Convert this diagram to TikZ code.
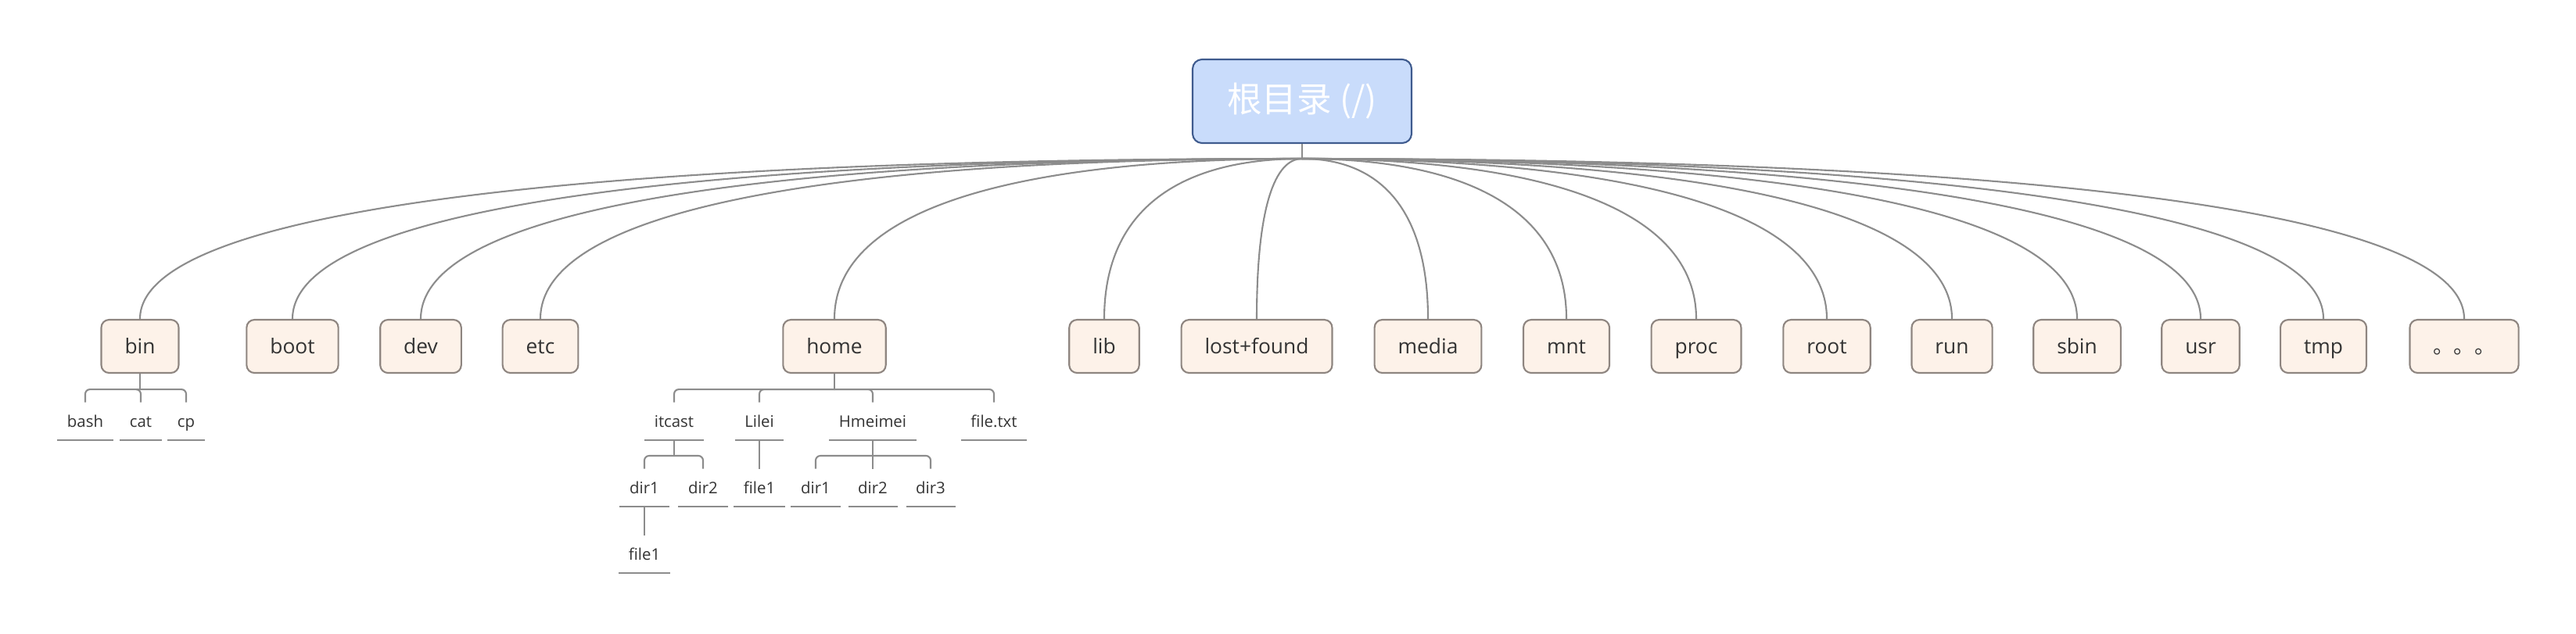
\documentclass[tikz,border=0pt]{standalone}
\usepackage{fontspec}
\usepackage{xcolor}
\usepackage{tikz}
\usetikzlibrary{calc}
\setmainfont{Open Sans}
\newfontfamily\cjkfont{Noto Sans CJK SC}
\definecolor{rootfill}{HTML}{C9DCFB}
\definecolor{rootline}{HTML}{3F5B8E}
\definecolor{boxfill}{HTML}{FDF2E9}
\definecolor{boxline}{HTML}{8E8580}
\definecolor{linkgray}{HTML}{8C8C8C}
\definecolor{txt}{HTML}{333333}
\tikzset{
  rootbox/.style={draw=rootline, fill=rootfill, rounded corners=.12cm, line width=.6pt,
    minimum width=2.8cm, minimum height=1.07cm, text=white, font=\fontsize{12.7}{14}\cjkfont},
  dirbox/.style={draw=boxline, fill=boxfill, rounded corners=.1cm, line width=.6pt,
    minimum height=.68cm, inner xsep=.3cm, text height=.24cm, text depth=.06cm,
    text=txt, font=\fontsize{7.5}{9}\selectfont},
  leaf/.style={anchor=south, inner xsep=.12cm, inner ysep=.06cm, text height=.17cm,
    text depth=.10cm, text=txt, font=\fontsize{5.8}{7}\selectfont},
  link/.style={draw=linkgray, line width=.6pt},
  branch/.style={link, rounded corners=.06cm},
}
\begin{document}
\begin{tikzpicture}
    \useasboundingbox (0,0) rectangle (32.94,-8.10);
    % root and first level
    \node[rootbox] (root) at (16.65,-1.295) {根目录 (/)};
    \coordinate (hub) at (16.65,-2.03);
    \draw[link] (root.south) -- (hub);
    \foreach \n/\x/\t in {bin/1.79/bin, boot/3.74/boot, dev/5.38/dev, etc/6.91/etc,
        home/10.67/home, lib/14.12/lib, lostfound/16.07/lost+found, media/18.26/media,
        mnt/20.03/mnt, proc/21.69/proc, rootdir/23.36/root, run/24.96/run,
        sbin/26.56/sbin, usr/28.14/usr, tmp/29.71/tmp, more/31.51/{\cjkfont 。。。}}
        \node[dirbox] (\n) at (\x,-4.43) {\t};
    \foreach \n in {bin,boot,dev,etc,home,lib,lostfound,media,mnt,proc,rootdir,run,sbin,usr,tmp,more}
        \draw[link] (hub) .. controls ($(hub)!.6!(hub -| \n.north)$)
            and ($(\n.north)!.7!(hub -| \n.north)$) .. (\n.north);
    % leaves
    \node[leaf] (bash) at (1.09,-5.63) {bash};
    \node[leaf] (cat) at (1.80,-5.63) {cat};
    \node[leaf] (cp) at (2.38,-5.63) {cp};
    \node[leaf] (itcast) at (8.62,-5.63) {itcast};
    \node[leaf] (lilei) at (9.71,-5.63) {Lilei};
    \node[leaf] (hmeimei) at (11.16,-5.63) {Hmeimei};
    \node[leaf] (filetxt) at (12.71,-5.63) {file.txt};
    \node[leaf] (idira) at (8.24,-6.48) {dir1};
    \node[leaf] (idirb) at (8.99,-6.48) {dir2};
    \node[leaf] (lfile) at (9.71,-6.48) {file1};
    \node[leaf] (hdira) at (10.43,-6.48) {dir1};
    \node[leaf] (hdirb) at (11.16,-6.48) {dir2};
    \node[leaf] (hdirc) at (11.90,-6.48) {dir3};
    \node[leaf] (ifile) at (8.24,-7.33) {file1};
    \foreach \n in {bash,cat,cp,itcast,lilei,hmeimei,filetxt,idira,idirb,lfile,hdira,hdirb,hdirc,ifile}
        \draw[link] (\n.south west) -- (\n.south east);
    % brackets
    \foreach \p/\kids in {bin/{bash,cat,cp}, home/{itcast,lilei,hmeimei,filetxt},
        itcast/{idira,idirb}, lilei/{lfile}, hmeimei/{hdira,hdirb,hdirc}, idira/{ifile}} {
        \draw[link] (\p.south) -- ++(0,-.2) coordinate (\p j);
        \foreach \c in \kids
            \draw[branch] (\p j) -| ([yshift=.08cm]\c.north);
    }
\end{tikzpicture}
\end{document}
